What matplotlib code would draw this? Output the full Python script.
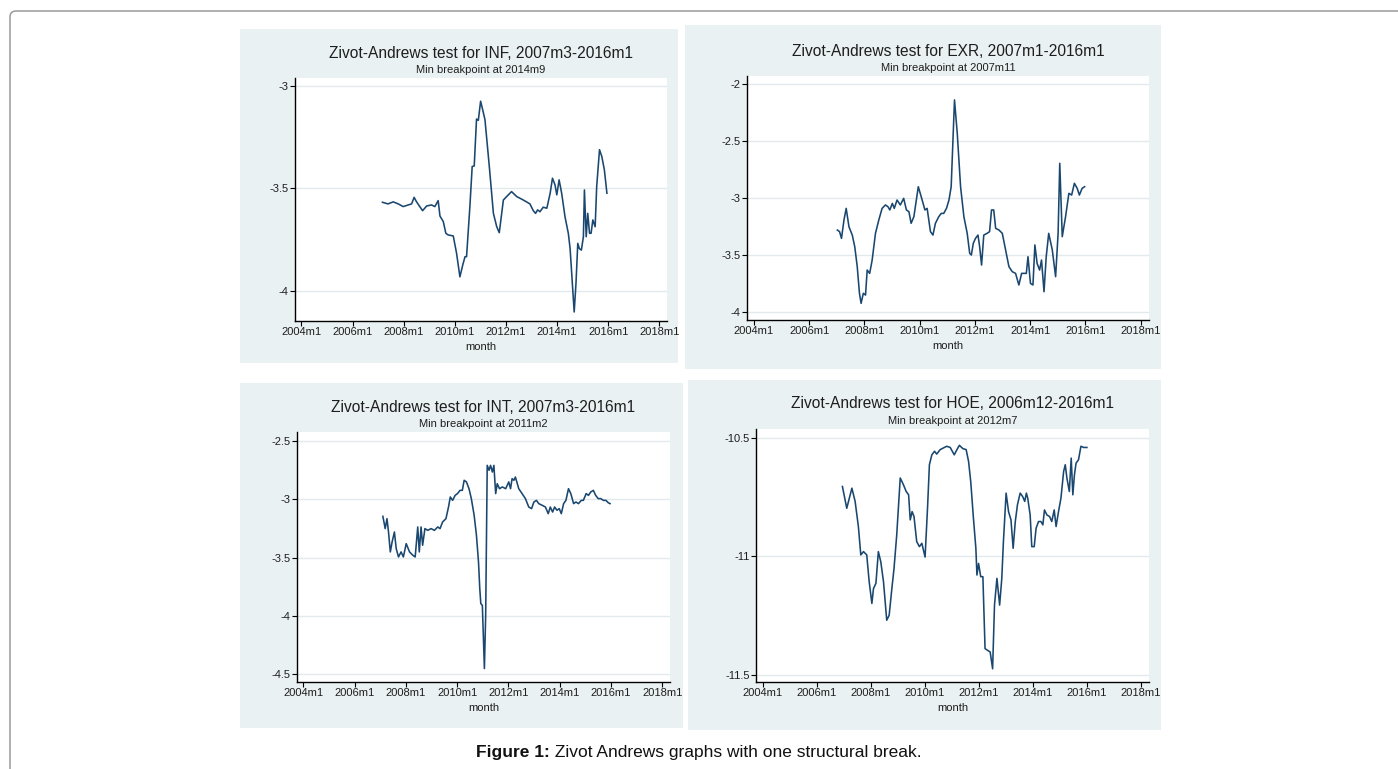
import matplotlib
matplotlib.use('Agg')
import matplotlib.pyplot as plt
from matplotlib.patches import Rectangle, FancyBboxPatch
from matplotlib.ticker import FixedLocator, FuncFormatter

plt.rcParams['font.family'] = ['Liberation Sans', 'DejaVu Sans']
plt.rcParams['axes.unicode_minus'] = False

W, H = 1398, 769

# Zivot-Andrews t statistic against candidate break date (decimal year)
inf_t = [2007.17, 2007.39, 2007.59, 2007.79, 2007.98, 2008.18, 2008.31, 2008.41,
         2008.50, 2008.74, 2008.90, 2009.09, 2009.22, 2009.35, 2009.42, 2009.55,
         2009.65, 2009.74, 2009.94, 2010.07, 2010.20, 2010.31, 2010.40, 2010.46,
         2010.59, 2010.68, 2010.76, 2010.85, 2010.92, 2011.01, 2011.09, 2011.18,
         2011.35, 2011.51, 2011.64, 2011.74, 2011.90, 2012.03, 2012.22, 2012.42,
         2012.68, 2012.94, 2013.07, 2013.16, 2013.24, 2013.33, 2013.46, 2013.60,
         2013.73, 2013.82, 2013.92, 2013.99, 2014.08, 2014.18, 2014.31, 2014.44,
         2014.51, 2014.67, 2014.74, 2014.81, 2014.87, 2014.95, 2015.03, 2015.07,
         2015.14, 2015.20, 2015.27, 2015.33, 2015.40, 2015.49, 2015.55, 2015.66,
         2015.75, 2015.85, 2015.95]
inf_v = [-3.568, -3.576, -3.566, -3.576, -3.589, -3.581, -3.576, -3.544,
         -3.565, -3.609, -3.586, -3.581, -3.589, -3.560, -3.635, -3.662,
         -3.719, -3.727, -3.732, -3.817, -3.931, -3.874, -3.833, -3.833,
         -3.589, -3.394, -3.391, -3.163, -3.169, -3.076, -3.117, -3.166,
         -3.394, -3.622, -3.687, -3.716, -3.557, -3.540, -3.516, -3.540,
         -3.557, -3.576, -3.609, -3.622, -3.605, -3.614, -3.592, -3.597,
         -3.524, -3.451, -3.483, -3.532, -3.459, -3.524, -3.638, -3.719,
         -3.793, -4.102, -3.963, -3.768, -3.793, -3.801, -3.736, -3.508,
         -3.736, -3.622, -3.719, -3.719, -3.654, -3.687, -3.491, -3.312,
         -3.345, -3.410, -3.524]

exr_t = [2007.02, 2007.10, 2007.17, 2007.26, 2007.34, 2007.44, 2007.56, 2007.65,
         2007.74, 2007.82, 2007.88, 2007.96, 2008.04, 2008.10, 2008.19, 2008.28,
         2008.40, 2008.52, 2008.64, 2008.76, 2008.85, 2008.92, 2009.01, 2009.08,
         2009.18, 2009.30, 2009.42, 2009.52, 2009.61, 2009.69, 2009.79, 2009.95,
         2010.09, 2010.19, 2010.27, 2010.39, 2010.48, 2010.57, 2010.69, 2010.78,
         2010.87, 2010.97, 2011.06, 2011.14, 2011.26, 2011.36, 2011.48, 2011.60,
         2011.72, 2011.81, 2011.87, 2011.94, 2012.02, 2012.11, 2012.17, 2012.24,
         2012.32, 2012.44, 2012.53, 2012.60, 2012.68, 2012.75, 2012.87, 2012.99,
         2013.11, 2013.23, 2013.35, 2013.47, 2013.59, 2013.69, 2013.77, 2013.86,
         2013.92, 2014.01, 2014.10, 2014.17, 2014.25, 2014.34, 2014.41, 2014.50,
         2014.58, 2014.67, 2014.80, 2014.92, 2015.01, 2015.07, 2015.16, 2015.28,
         2015.40, 2015.50, 2015.60, 2015.70, 2015.78, 2015.88, 2015.97]
exr_v = [-3.278, -3.292, -3.351, -3.190, -3.088, -3.249, -3.322, -3.424,
         -3.599, -3.833, -3.921, -3.833, -3.848, -3.629, -3.658, -3.541,
         -3.307, -3.190, -3.088, -3.058, -3.073, -3.102, -3.044, -3.088,
         -3.015, -3.058, -3.000, -3.102, -3.117, -3.219, -3.161, -2.898,
         -3.015, -3.102, -3.088, -3.292, -3.322, -3.219, -3.161, -3.132,
         -3.132, -3.088, -3.015, -2.898, -2.137, -2.430, -2.898, -3.161,
         -3.307, -3.482, -3.497, -3.395, -3.351, -3.322, -3.424, -3.585,
         -3.322, -3.307, -3.292, -3.102, -3.102, -3.263, -3.278, -3.307,
         -3.453, -3.599, -3.643, -3.658, -3.760, -3.658, -3.658, -3.658,
         -3.512, -3.746, -3.760, -3.409, -3.570, -3.629, -3.541, -3.819,
         -3.512, -3.307, -3.453, -3.687, -3.307, -2.693, -3.336, -3.161,
         -2.956, -2.971, -2.868, -2.912, -2.971, -2.912, -2.898]

int_t = [2007.10, 2007.19, 2007.26, 2007.32, 2007.39, 2007.46, 2007.55, 2007.62,
         2007.71, 2007.81, 2007.90, 2008.01, 2008.14, 2008.27, 2008.36, 2008.46,
         2008.52, 2008.59, 2008.65, 2008.74, 2008.85, 2008.98, 2009.11, 2009.24,
         2009.33, 2009.43, 2009.56, 2009.66, 2009.73, 2009.82, 2009.92, 2010.01,
         2010.11, 2010.20, 2010.27, 2010.36, 2010.46, 2010.55, 2010.66, 2010.75,
         2010.83, 2010.88, 2010.92, 2010.98, 2011.06, 2011.11, 2011.17, 2011.24,
         2011.30, 2011.37, 2011.43, 2011.50, 2011.56, 2011.65, 2011.76, 2011.89,
         2012.01, 2012.08, 2012.14, 2012.21, 2012.27, 2012.40, 2012.53, 2012.66,
         2012.79, 2012.90, 2012.99, 2013.09, 2013.18, 2013.31, 2013.44, 2013.55,
         2013.63, 2013.72, 2013.80, 2013.89, 2013.98, 2014.06, 2014.15, 2014.24,
         2014.34, 2014.43, 2014.54, 2014.63, 2014.73, 2014.84, 2014.92, 2015.03,
         2015.12, 2015.21, 2015.31, 2015.40, 2015.50, 2015.60, 2015.70, 2015.80,
         2015.89, 2015.96]
int_v = [-3.146, -3.251, -3.166, -3.280, -3.451, -3.366, -3.280, -3.423,
         -3.494, -3.451, -3.494, -3.380, -3.451, -3.480, -3.494, -3.237,
         -3.451, -3.237, -3.394, -3.251, -3.266, -3.251, -3.266, -3.237,
         -3.251, -3.194, -3.166, -3.066, -2.980, -3.009, -2.966, -2.951,
         -2.923, -2.923, -2.837, -2.851, -2.909, -2.994, -3.137, -3.309,
         -3.537, -3.766, -3.894, -3.909, -4.451, -3.994, -2.709, -2.751,
         -2.709, -2.766, -2.709, -2.951, -2.866, -2.909, -2.894, -2.909,
         -2.851, -2.909, -2.823, -2.837, -2.809, -2.909, -2.951, -2.994,
         -3.066, -3.080, -3.023, -3.009, -3.037, -3.051, -3.066, -3.123,
         -3.066, -3.109, -3.066, -3.094, -3.080, -3.123, -3.037, -3.009,
         -2.909, -2.951, -3.037, -3.023, -3.037, -3.009, -3.009, -2.951,
         -2.966, -2.937, -2.923, -2.966, -2.994, -2.994, -3.009, -3.009,
         -3.029, -3.037]

hoe_t = [2006.95, 2007.11, 2007.30, 2007.42, 2007.54, 2007.63, 2007.73, 2007.85,
         2007.94, 2008.04, 2008.10, 2008.19, 2008.28, 2008.37, 2008.47, 2008.59,
         2008.68, 2008.78, 2008.86, 2008.96, 2009.09, 2009.21, 2009.31, 2009.40,
         2009.46, 2009.53, 2009.60, 2009.70, 2009.80, 2009.89, 2010.01, 2010.10,
         2010.17, 2010.26, 2010.36, 2010.44, 2010.57, 2010.69, 2010.81, 2010.94,
         2011.09, 2011.19, 2011.28, 2011.41, 2011.53, 2011.62, 2011.70, 2011.80,
         2011.89, 2011.93, 2011.99, 2012.07, 2012.15, 2012.23, 2012.32, 2012.42,
         2012.51, 2012.58, 2012.67, 2012.77, 2012.85, 2012.91, 2013.01, 2013.10,
         2013.19, 2013.27, 2013.35, 2013.43, 2013.53, 2013.62, 2013.70, 2013.76,
         2013.81, 2013.90, 2013.96, 2014.05, 2014.12, 2014.21, 2014.30, 2014.37,
         2014.43, 2014.52, 2014.62, 2014.70, 2014.79, 2014.86, 2014.95, 2015.04,
         2015.14, 2015.20, 2015.26, 2015.35, 2015.42, 2015.48, 2015.54, 2015.60,
         2015.69, 2015.78, 2015.88, 2016.00]
hoe_v = [-10.705, -10.797, -10.712, -10.768, -10.874, -10.994, -10.980, -10.994,
         -11.107, -11.199, -11.136, -11.114, -10.980, -11.023, -11.107, -11.270,
         -11.249, -11.136, -11.051, -10.910, -10.669, -10.698, -10.726, -10.740,
         -10.846, -10.811, -10.832, -10.938, -10.959, -10.945, -11.003, -10.797,
         -10.613, -10.571, -10.556, -10.568, -10.549, -10.542, -10.535, -10.540,
         -10.571, -10.549, -10.531, -10.545, -10.549, -10.599, -10.684, -10.839,
         -10.966, -11.079, -11.030, -11.086, -11.086, -11.390, -11.397, -11.404,
         -11.475, -11.206, -11.093, -11.206, -11.093, -10.938, -10.733, -10.811,
         -10.846, -10.966, -10.853, -10.782, -10.733, -10.747, -10.768, -10.733,
         -10.754, -10.825, -10.959, -10.959, -10.881, -10.853, -10.853, -10.867,
         -10.804, -10.825, -10.832, -10.853, -10.804, -10.874, -10.811, -10.754,
         -10.641, -10.613, -10.669, -10.726, -10.585, -10.740, -10.655, -10.606,
         -10.592, -10.535, -10.540, -10.540]

titles = ["Zivot-Andrews test for INF, 2007m3-2016m1",
          "Zivot-Andrews test for EXR, 2007m1-2016m1",
          "Zivot-Andrews test for INT, 2007m3-2016m1",
          "Zivot-Andrews test for HOE, 2006m12-2016m1"]
subtitles = ["Min breakpoint at 2014m9",
             "Min breakpoint at 2007m11",
             "Min breakpoint at 2011m2",
             "Min breakpoint at 2012m7"]
yticks = [[-4, -3.5, -3],
          [-4, -3.5, -3, -2.5, -2],
          [-4.5, -4, -3.5, -3, -2.5],
          [-11.5, -11, -10.5]]
xticks = [2004, 2006, 2008, 2010, 2012, 2014, 2016, 2018]
xtick_labels = ["%dm1" % y for y in xticks]

series = [(inf_t, inf_v), (exr_t, exr_v), (int_t, int_v), (hoe_t, hoe_v)]

# layout in pixels: graph region (l, t, r, b), plot region (l, t, r, b), ylim
layout = [
    ((240, 29, 678, 363), (295, 78, 667, 321), (-4.146, -2.963)),
    ((685, 25, 1161, 369), (747, 76, 1149, 320), (-4.067, -1.927)),
    ((240, 383, 683, 728), (297, 432, 670, 682), (-4.566, -2.423)),
    ((688, 380, 1161, 730), (756, 429, 1149, 682), (-11.531, -10.462)),
]

BG = "#eaf1f3"
LINE = "#1a476f"
TEXT = "#1e1e1e"

fig = plt.figure(figsize=(W / 100, H / 100), dpi=100)
page = fig.add_axes([0, 0, 1, 1], zorder=0)
page.set_xlim(0, W)
page.set_ylim(H, 0)
page.axis('off')

# page frame, open to the right and bottom
page.add_patch(FancyBboxPatch((10, 11), 1500, 900,
                              boxstyle="round,pad=0,rounding_size=6",
                              fc="none", ec="#9a9a9a", lw=1.1))

for i in range(4):
    (gl, gt, gr, gb), (pl, pt, pr, pb), ylim = layout[i]
    page.add_patch(Rectangle((gl, gt), gr - gl, gb - gt, fc=BG, ec="none"))

    ax = fig.add_axes([pl / W, 1 - pb / H, (pr - pl) / W, (pb - pt) / H], zorder=2)
    t, v = series[i]
    ax.plot(t, v, color=LINE, lw=1.15)
    ax.set_xlim(2003.75, 2018.3)
    ax.set_ylim(*ylim)

    ax.xaxis.set_major_locator(FixedLocator(xticks))
    ax.set_xticklabels(xtick_labels)
    ax.yaxis.set_major_locator(FixedLocator(yticks[i]))
    ax.yaxis.set_major_formatter(FuncFormatter(lambda y, p: "%g" % y))
    ax.grid(axis='y', color="#e3eaec", lw=1.0)
    ax.set_axisbelow(True)

    for side in ['top', 'right']:
        ax.spines[side].set_visible(False)
    for side in ['left', 'bottom']:
        ax.spines[side].set_color("#000000")
        ax.spines[side].set_linewidth(1.0)
    ax.tick_params(direction='out', length=3.5, width=0.8, pad=1,
                   labelsize=8, labelcolor=TEXT)

    cx = (pl + pr) / 2
    page.text(cx, pt - 25, titles[i], ha='center', va='center',
              fontsize=11.2, color=TEXT)
    page.text(cx, pt - 8, subtitles[i], ha='center', va='center',
              fontsize=8, color=TEXT)
    page.text(cx, pb + 26, "month", ha='center', va='center',
              fontsize=8, color=TEXT)

# caption: bold label followed by plain text, centred as one line
renderer = fig.canvas.get_renderer()
cap_a = page.text(0, 753, "Figure 1:", ha='left', va='center',
                  fontsize=12.5, fontweight='bold', color="#111111")
cap_b = page.text(0, 753, " Zivot Andrews graphs with one structural break.",
                  ha='left', va='center', fontsize=12.5, color="#111111")
wa = cap_a.get_window_extent(renderer).width
wb = cap_b.get_window_extent(renderer).width
x0 = W / 2 - (wa + wb) / 2
cap_a.set_x(x0)
cap_b.set_x(x0 + wa)

fig.savefig("out.png", dpi=100)
